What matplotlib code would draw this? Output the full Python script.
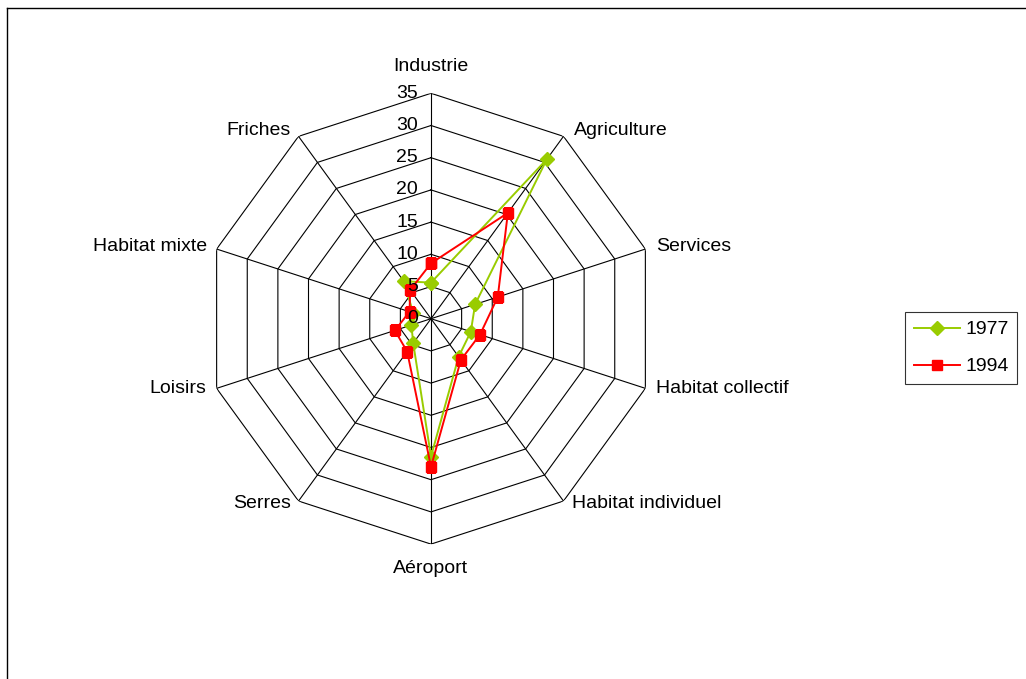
import numpy as np
import matplotlib.pyplot as plt
from matplotlib.lines import Line2D

plt.rcParams['font.family'] = ['Liberation Sans', 'DejaVu Sans']

categories = ['Industrie', 'Agriculture', 'Services', 'Habitat collectif',
              'Habitat individuel', 'Aéroport', 'Serres', 'Loisirs',
              'Habitat mixte', 'Friches']
v1977 = [5.6, 30.6, 7.2, 6.5, 7.3, 21.4, 4.7, 3.2, 2.9, 7.2]
v1994 = [8.6, 20.3, 10.9, 8.0, 7.9, 23.0, 6.3, 5.9, 3.5, 5.5]
ring_values = [0, 5, 10, 15, 20, 25, 30, 35]

# label offsets in pixels (dx, dy, ha) for each category around the web
label_pos = [(0, 27, 'center'), (10, 6, 'left'), (11, 3, 'left'), (11, 0, 'left'),
             (9, -2, 'left'), (0, -24, 'center'), (-8, -2, 'right'),
             (-10, 0, 'right'), (-10, 3, 'right'), (-8, 6, 'right')]

W, H = 1026, 679
fig = plt.figure(figsize=(W / 100, H / 100), dpi=100)

# frame around the chart area
fig.add_artist(Line2D([7 / W, 7 / W], [0, 1 - 8 / H], color='black', lw=1,
                      transform=fig.transFigure))
fig.add_artist(Line2D([7 / W, 1], [1 - 8 / H, 1 - 8 / H], color='black', lw=1,
                      transform=fig.transFigure))

cx, cy, R = 431, 318.7, 225.4
ax = fig.add_axes([(cx - R) / W, (H - cy - R) / H, 2 * R / W, 2 * R / H],
                  projection='polar')
ax.set_theta_zero_location('N')
ax.set_theta_direction(-1)
ax.set_ylim(0, 35)
ax.grid(False)
ax.spines['polar'].set_visible(False)
ax.set_xticks([])
ax.set_yticks([])
ax.patch.set_alpha(0)

n = len(categories)
theta = np.arange(n) * 2 * np.pi / n
theta_c = np.append(theta, theta[0])

# polygonal rings and spokes
for r in ring_values[1:]:
    ax.plot(theta_c, [r] * (n + 1), color='black', lw=0.8, zorder=1)
for t in theta:
    ax.plot([t, t], [0, 35], color='black', lw=0.8, zorder=1)

ax.plot(theta_c, v1977 + v1977[:1], color='#99CC00', lw=1.4, marker='D',
        markersize=7, label='1977', zorder=3)
ax.plot(theta_c, v1994 + v1994[:1], color='#FF0000', lw=1.4, marker='s',
        markersize=7.5, label='1994', zorder=3)

for r in ring_values:
    ax.annotate(str(r), xy=(0, r), xytext=(-13, 0), textcoords='offset pixels',
                ha='right', va='center', fontsize=14, zorder=4)

for t, name, (dx, dy, ha) in zip(theta, categories, label_pos):
    ax.annotate(name, xy=(t, 35), xytext=(dx, dy), textcoords='offset pixels',
                ha=ha, va='center', fontsize=14, annotation_clip=False)

leg = fig.legend(loc='upper left', bbox_to_anchor=(905 / W, 1 - 312 / H),
                 frameon=True, fancybox=False, edgecolor='black', fontsize=14,
                 handlelength=2.4, borderpad=0.45, labelspacing=1.0,
                 handletextpad=0.25, borderaxespad=0)
leg.get_frame().set_linewidth(0.8)

fig.savefig('out.png', dpi=100)
